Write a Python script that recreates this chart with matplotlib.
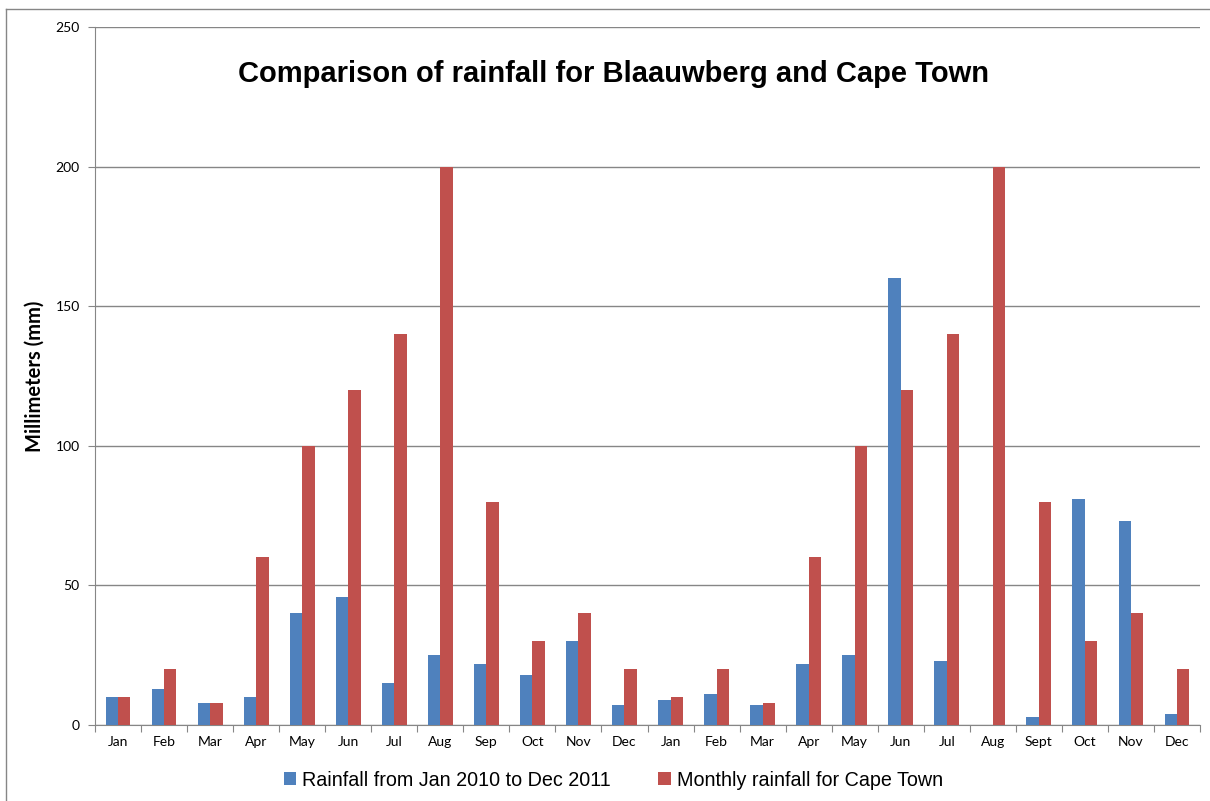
import numpy as np
import matplotlib.pyplot as plt
from matplotlib.lines import Line2D

months = ["Jan", "Feb", "Mar", "Apr", "May", "Jun", "Jul", "Aug", "Sep", "Oct", "Nov", "Dec",
          "Jan", "Feb", "Mar", "Apr", "May", "Jun", "Jul", "Aug", "Sept", "Oct", "Nov", "Dec"]
blaauwberg = [10, 13, 8, 10, 40, 46, 15, 25, 22, 18, 30, 7,
              9, 11, 7, 22, 25, 160, 23, 0, 3, 81, 73, 4]
cape_town = [10, 20, 8, 60, 100, 120, 140, 200, 80, 30, 40, 20,
             10, 20, 8, 60, 100, 120, 140, 200, 80, 30, 40, 20]

blue = "#4F81BD"
red = "#C0504D"
grey = "#868686"

fig = plt.figure(figsize=(12.1, 8.01), dpi=100)
ax = fig.add_axes([95 / 1210, 76 / 801, 1105 / 1210, 698 / 801])

x = np.arange(len(months))
w = 0.27
ax.bar(x - w / 2, blaauwberg, w, color=blue, label="Rainfall from Jan 2010 to Dec 2011", zorder=3)
ax.bar(x + w / 2, cape_town, w, color=red, label="Monthly rainfall for Cape Town", zorder=3)

ax.set_xlim(-0.5, len(months) - 0.5)
ax.set_ylim(0, 250)
ax.set_yticks(range(0, 251, 50))
ax.yaxis.grid(True, color=grey, linewidth=1, zorder=0)

# ticks sit between categories, labels in the middle
ax.set_xticks(np.arange(-0.5, len(months), 1))
ax.set_xticklabels([])
ax.set_xticks(x, minor=True)
ax.set_xticklabels(months, minor=True, fontsize=10, family="Lato")
ax.tick_params(axis="x", which="major", length=5, color=grey, direction="out")
ax.tick_params(axis="x", which="minor", length=0, pad=8)
ax.tick_params(axis="y", length=5, color=grey, direction="out", labelsize=10, pad=6)
for lbl in ax.get_yticklabels():
    lbl.set_family("Lato")

for side in ["top", "right"]:
    ax.spines[side].set_visible(False)
for side in ["left", "bottom"]:
    ax.spines[side].set_color(grey)

ax.set_ylabel("Millimeters (mm)", fontsize=14.5, fontweight="bold", family="Lato", labelpad=8)
ax.text(0.469, 0.933, "Comparison of rainfall for Blaauwberg and Cape Town",
        transform=ax.transAxes, ha="center", va="center",
        fontsize=21, fontweight="bold", family="Liberation Sans")

fig.legend(loc="center", bbox_to_anchor=(0.507, 21 / 801), ncol=2, frameon=False,
           prop={"family": "Liberation Sans", "size": 14.2}, handlelength=0.65,
           handleheight=0.65, handletextpad=0.3, columnspacing=2.4)

# outer chart border
fig.add_artist(Line2D([6 / 1210, 6 / 1210], [0, 1 - 9 / 801], color=grey, linewidth=1))
fig.add_artist(Line2D([6 / 1210, 1], [1 - 9 / 801, 1 - 9 / 801], color=grey, linewidth=1))

fig.savefig("out.png", dpi=100)
